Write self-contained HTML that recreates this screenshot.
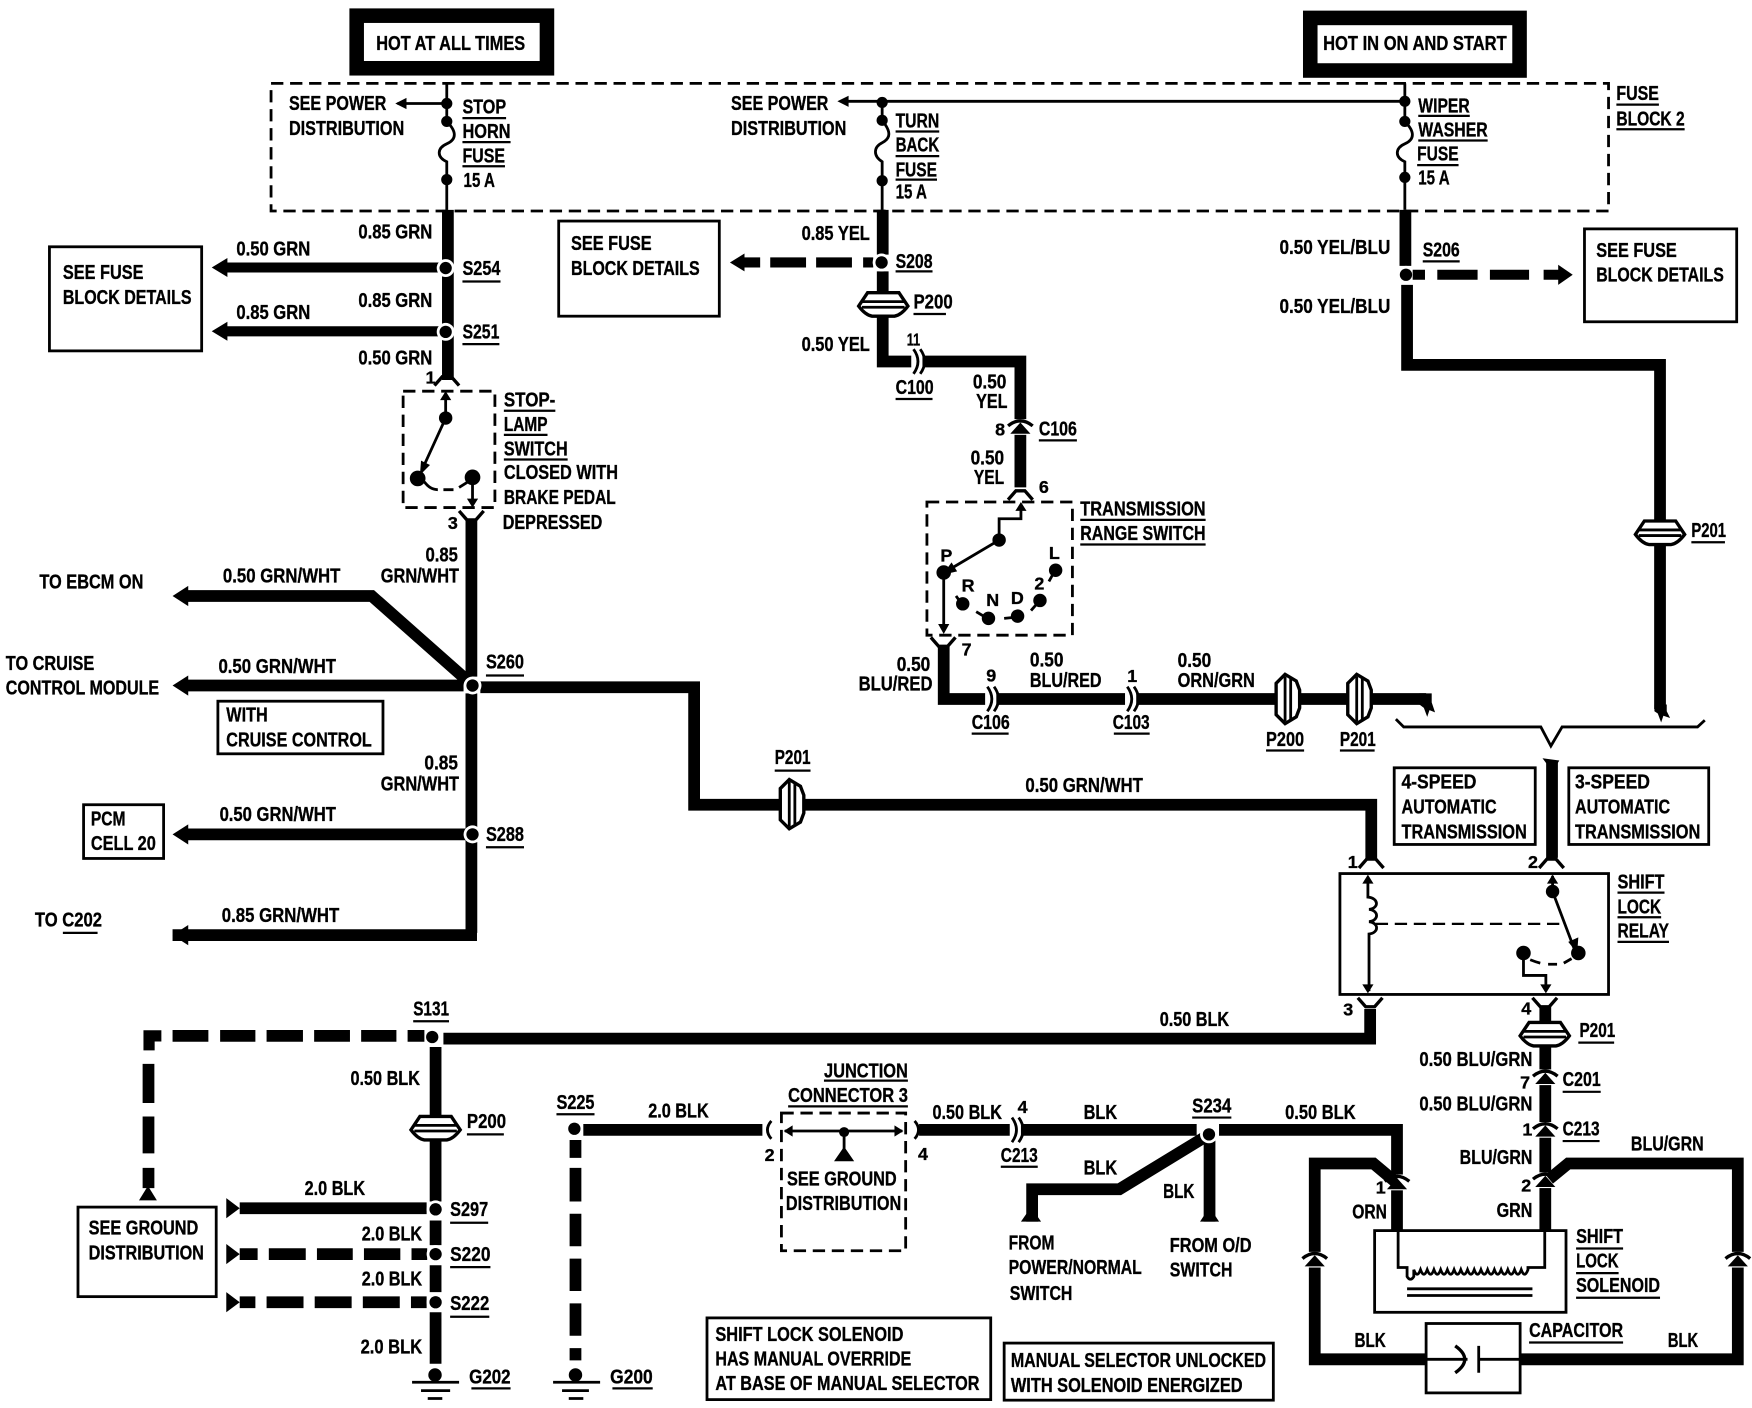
<!DOCTYPE html>
<html><head><meta charset="utf-8"><style>
html,body{margin:0;padding:0;background:#fff}
svg{display:block}
text{font-family:"Liberation Sans",sans-serif;font-weight:bold;font-size:18px;fill:#000;stroke:#000;stroke-width:.3}
text.n{font-size:16px}
.w{fill:none;stroke:#000;stroke-width:10.5;stroke-linejoin:miter}
.t{fill:none;stroke:#000;stroke-width:2.5}
.u{fill:none;stroke:#000;stroke-width:2}
.b{fill:none;stroke:#000;stroke-width:2.5}
.da{fill:none;stroke:#000;stroke-width:2.5;stroke-dasharray:11 6}
</style></head><body>
<svg xmlns="http://www.w3.org/2000/svg" width="1752" height="1408" viewBox="0 0 1565 1258">
<defs>
<g id="fu"><path d="M-11,6 L-4,-2 L4,-2 L11,6" fill="none" stroke="#000" stroke-width="3"/></g>
<g id="fd"><path d="M-11,-6 L-4,2 L4,2 L11,-6" fill="none" stroke="#000" stroke-width="3"/></g>
<g id="cv"><rect x="-13" y="-7" width="26" height="14" fill="#fff"/><path d="M-11,-1 Q0,-10 11,-1" fill="none" stroke="#000" stroke-width="3"/><path d="M-9,6 L0,-4 L9,6 Z" fill="#000"/></g>
<g id="ch"><rect x="-5" y="-12" width="10" height="24" fill="#fff"/><path d="M-3,-11 Q5,0 -3,11 M3,-11 Q11,0 3,11" fill="none" stroke="#000" stroke-width="2.5"/></g>
<g id="pv"><path d="M-22,2 L-14,-10 L14,-10 L22,2 Q16,10 10,11 L-10,11 Q-16,10 -22,2 Z" fill="#fff" stroke="#000" stroke-width="3"/><path d="M-19,-2 H19 M-19,3 H19" stroke="#000" stroke-width="2.5"/></g>
<g id="ph"><path d="M-2,-22 L-10,-14 L-10,14 L-2,22 L8,16 L11,8 L11,-8 L8,-16 Z" fill="#fff" stroke="#000" stroke-width="3"/><path d="M-2,-20 V20 M3,-20 V20" stroke="#000" stroke-width="2.5"/></g>
<g id="dot"><circle r="8" fill="#fff"/><circle r="5.5" fill="#000"/></g>
</defs>
<rect width="1565" height="1258" fill="#fff"/>
<g transform="translate(-1,-0.5)">

<!-- power boxes -->
<rect x="313" y="8" width="183" height="60" fill="#000"/><rect x="326" y="21" width="157" height="34" fill="#fff"/>
<rect x="1165" y="10" width="200" height="60" fill="#000"/><rect x="1178" y="23" width="174" height="34" fill="#fff"/>
<!-- fuse block -->
<rect x="243" y="75" width="1195" height="114" class="da"/>

<!-- thin fuse lines -->
<path class="t" d="M400,75 V109 C409,118 409,125 400,129 C391,133 391,141 400,145 V188 M400,93 H356 M1256,75 V109 C1265,118 1265,125 1256,129 C1247,133 1247,141 1256,145 V188 M1256,91 H752 M789,91 V108 C797,118 797,124 789,128 C781,132 781,140 789,145 V188"/>
<path d="M354,93 L364,88 L364,98 Z M749,91 L759,86 L759,96 Z"/>
<g fill="#000"><circle cx="400" cy="93" r="5"/><circle cx="400" cy="109" r="5"/><circle cx="400" cy="161" r="5"/><circle cx="789" cy="92" r="5"/><circle cx="789" cy="108" r="5"/><circle cx="789" cy="162" r="5"/><circle cx="1256" cy="91" r="5"/><circle cx="1256" cy="109" r="5"/><circle cx="1256" cy="159" r="5"/></g>

<!-- wires -->
<path class="w" d="M401,188 V340"/>
<path class="w" style="stroke-width:9" d="M203,239.5 H395 M203,296.5 H395"/>
<path d="M190,239.5 L204,231 L204,248 Z M190,296.5 L204,288 L204,305 Z"/>
<use href="#fu" x="400" y="339"/>
<rect x="361" y="350" width="82" height="104" class="da"/>
<path class="t" d="M399,352 V374 L378,420 M423,427 V452"/>
<path d="M399,350 L394,358 L404,358 Z M376,425 L377,412 L385,416 Z M423,454 L418,446 L428,446 Z"/>
<circle cx="399" cy="374" r="6"/><circle cx="374" cy="428" r="7"/><circle cx="423" cy="427" r="7"/>
<path class="t" d="M380,431 Q385,438 392,438 M397,438 H406 M411,436 L419,431"/>
<use href="#fd" x="422" y="463"/>
<path class="w" d="M422,466 V605 M422,620 V834 M155,836 H427"/>
<path class="w" d="M168,533 H333 L420,610 M168,613 H415 M168,746 H418 M430,614.5 H621 V719.5 H1226 V768"/>
<path d="M155,533 L169,524 L169,542 Z M155,613 L169,604 L169,622 Z M155,746 L169,737 L169,755 Z M155,836 L169,827 L169,845 Z"/>
<use href="#dot" x="399" y="240"/><use href="#dot" x="399" y="297"/><use href="#dot" x="423" y="613"/><use href="#dot" x="423" y="746"/>
<use href="#ph" x="708" y="719"/>

<!-- middle column -->
<path class="w" d="M789.5,188 V228 M789.5,243 V323.5 H912.5 V436"/>
<path class="w" style="stroke-width:9" d="M665,235 H680 M689,235 H721 M730,235 H762 M772,235 H781"/>
<path d="M653,235 L666,227 L666,243 Z"/>
<use href="#dot" x="788.5" y="235"/>
<use href="#pv" x="790" y="272"/>
<use href="#ch" x="820" y="323.5"/>
<use href="#cv" x="912.5" y="382"/>
<use href="#fu" x="912.5" y="441"/>
<rect x="829" y="449" width="130" height="119" class="da"/>
<path class="t" d="M913,452 V464 H893.5 V483 L848,510 M844,512 V564"/>
<path d="M913,449 L908,457 L918,457 Z M843,514 L851,503 L856,511 Z M844,567 L839,558 L849,558 Z"/>
<g fill="#000"><circle cx="893.5" cy="483" r="6"/><circle cx="844" cy="512" r="6.5"/><circle cx="861" cy="540" r="6"/><circle cx="884" cy="553" r="6"/><circle cx="910" cy="551" r="6"/><circle cx="930" cy="537" r="6"/><circle cx="944" cy="510" r="6"/></g>
<path class="t" d="M855,533 L860,540 M873,547 L883,553 M898,553 L908,552 M922,546 L929,538 M938,520 L943,511"/>
<use href="#fd" x="843.5" y="576"/>
<path class="w" d="M844,578 V625 H1275"/>
<use href="#ch" x="886" y="625"/><use href="#ch" x="1011" y="625"/>
<use href="#ph" x="1151" y="625"/><use href="#ph" x="1215" y="625"/>
<path d="M1269,620 H1280 V628 L1283,637 L1278,635 L1276,641 L1273,633 L1269,630 Z"/>

<!-- right column -->
<path class="w" d="M1256.5,188 V238 M1258,255 V326.5 H1484 V634"/>
<use href="#dot" x="1257" y="246"/>
<path class="w" style="stroke-width:9" d="M1263,246 H1274 M1285,246 H1321 M1332,246 H1367 M1380,246 H1395"/>
<path d="M1406,246 L1393,237 L1393,255 Z"/>
<use href="#pv" x="1484" y="476"/>
<path d="M1479,630 H1490 V636 L1493,642 L1487,640 L1485,646 L1482,638 L1479,636 Z"/>
<path class="t" d="M1248,643 L1255,650 H1377.5 L1386.5,667 L1396.5,650 H1517.5 L1524,644"/>

<!-- relay -->
<rect x="1198" y="781" width="240" height="108" class="b"/>
<use href="#fu" x="1226" y="770"/><use href="#fu" x="1387" y="770"/>
<path class="w" d="M1387.5,682 V767"/>
<path d="M1379,678 L1394,680 L1388,690 Z"/>
<path class="t" d="M1223,785 V802 C1233,803 1233,812 1224,813 C1233,814 1233,823 1224,824 C1233,825 1233,834 1224,835 V886 M1388,783 V797 L1408,850 M1362,852 V872 H1382 V886"/>
<path class="da" style="stroke-width:2" d="M1230,826 H1397"/>
<path d="M1223,782 L1218,790 L1228,790 Z M1223,888 L1218,880 L1228,880 Z M1388,782 L1383,790 L1393,790 Z M1410,852 L1402,842 L1411,838 Z M1382,888 L1377,880 L1387,880 Z"/>
<circle cx="1388" cy="797" r="6"/><circle cx="1411" cy="852" r="6.5"/><circle cx="1362" cy="852" r="6.5"/>
<path class="t" d="M1368,858 Q1373,860 1377,861 M1384,862 H1392 M1398,861 L1405,857"/>
<use href="#fd" x="1225" y="898"/><use href="#fd" x="1381" y="898"/>

<!-- bottom row -->
<path class="w" d="M397,928.5 H1225 V902"/>
<use href="#dot" x="387" y="927"/>
<path class="w" d="M155,926 H187 M197.5,926 H229 M239,926 H271.5 M281.5,926 H313.5 M323.5,926 H355 M365,926 H380"/>
<path d="M129,921 H145 V931 H139 V939 H129 Z"/>
<path class="w" d="M133.5,951 V986 M133.5,998 V1031 M133.5,1044 V1062"/>
<path d="M133,1060 L125,1073 L141,1073 Z"/>
<path class="w" d="M390,936 V1074 M390,1091 V1113 M390,1131 V1155 M390,1173 V1219"/>
<use href="#pv" x="390" y="1008"/>
<path class="w" d="M215,1080 H382"/>
<path d="M203,1071 L215,1080 L203,1089 Z M203,1112 L215,1121 L203,1130 Z M203,1155 L215,1164 L203,1173 Z"/>
<path class="w" d="M215,1121 H231 M241,1121 H274 M284,1121 H316 M326,1121 H358.5 M368.5,1121 H382.5 M215,1164 H229 M239,1164 H272 M282,1164 H315 M325,1164 H358 M368,1164 H382"/>
<use href="#dot" x="390" y="1081"/><use href="#dot" x="390" y="1121"/><use href="#dot" x="390" y="1164"/>
<circle cx="389.5" cy="1229" r="6"/>
<path d="M369,1235.5 H411 M377,1243 H403 M383,1250 H396" stroke="#000" stroke-width="2.5"/>
<path d="M389.5,1229 V1236" stroke="#000" stroke-width="3"/>

<path class="w" d="M522,1010 H682"/>
<circle cx="514" cy="1009" r="5.5"/>
<path class="w" d="M515,1019 V1035 M515,1044 V1074 M515,1085 V1114 M515,1125 V1154 M515,1165 V1194 M515,1205 V1216"/>
<circle cx="515" cy="1229" r="6"/>
<path d="M495,1235.5 H537 M503,1243 H527 M509,1250 H522" stroke="#000" stroke-width="2.5"/>
<path d="M515,1229 V1236" stroke="#000" stroke-width="3"/>
<path class="t" d="M690,1002 Q683,1010 690,1018 M818,1002 Q825,1010 818,1018"/>
<rect x="699" y="995" width="111" height="123" class="da"/>
<path class="t" d="M702,1011 H807 M755,1011 V1028"/>
<path d="M701,1011 L709,1006 L709,1016 Z M808,1011 L800,1006 L800,1016 Z M755,1025 L746,1038 L764,1038 Z"/>
<circle cx="755" cy="1012" r="4.5"/>

<path class="w" d="M822,1010 H1070 M1090,1010 H1249 V1050"/>
<use href="#ch" x="908" y="1010"/>
<path class="w" d="M1078,1016 L1001,1063 H923 V1092"/>
<path class="w" d="M1081.5,1015 V1092"/>
<path d="M922,1079 L913,1092 L931,1092 Z M1081.5,1079 L1073,1092 L1090,1092 Z"/>
<use href="#dot" x="1081" y="1014"/>

<!-- solenoid / capacitor -->
<path class="w" d="M1381.5,900 V1099"/>
<use href="#pv" x="1381" y="924"/>
<use href="#cv" x="1381.5" y="963"/><use href="#cv" x="1381.5" y="1010"/><use href="#cv" x="1381.5" y="1055"/>
<path class="w" d="M1249,1058 V1100"/>
<use href="#cv" x="1249" y="1057"/>
<path class="w" d="M1385,1054 L1402,1040 H1553.5 V1215 H1359 M1275,1215 H1175.5 V1040 H1228 L1247,1056"/>
<use href="#cv" x="1175.5" y="1126"/><use href="#cv" x="1553.5" y="1126"/>
<rect x="1229" y="1100" width="171" height="73" class="b"/>
<path class="t" d="M1250,1100 V1133 H1258 V1141 q3,5 6,0 v-6 q3,8 6,0 q3,8 6,0 q3,8 6,0 q3,8 6,0 q3,8 6,0 q3,8 6,0 q3,8 6,0 q3,8 6,0 q3,8 6,0 q3,8 6,0 q3,8 6,0 q3,8 6,0 q3,8 6,0 q3,8 6,0 q3,8 6,0 q3,8 6,0 q3,8 6,0 V1133 H1381 V1100"/>
<path d="M1258,1152 H1370 M1258,1158 H1370" stroke="#000" stroke-width="2.5"/>
<rect x="1275" y="1183" width="84" height="62" class="b" fill="#fff"/>
<path class="t" d="M1275,1215 H1312 M1322,1215 H1359 M1322,1203 V1227"/>
<path class="t" style="stroke-width:3" d="M1301,1203 Q1318,1215 1301,1227"/>

<!-- boxes -->
<rect x="45" y="221" width="136" height="93" class="b"/><rect x="500" y="198" width="143.5" height="85" class="b"/><rect x="1416.5" y="205" width="136" height="83" class="b"/><rect x="195.5" y="627" width="147.5" height="47" class="b"/><rect x="75.5" y="719.5" width="71.5" height="48" class="b"/><rect x="70.5" y="1079" width="123.5" height="80" class="b"/><rect x="632.5" y="1178" width="253.5" height="73" class="b"/><rect x="898" y="1200.5" width="240.5" height="51" class="b"/><rect x="1246.5" y="686.5" width="126" height="68.5" class="b"/><rect x="1402.5" y="686.5" width="125" height="68.5" class="b"/>

<!-- underlines -->
<path class="u" d="M414,106H453M414,127.5H457M414,149H452M801,118H840M801,140H840M801,161H838M1268,104H1314M1268,126H1330M1267,148H1304M1445,94H1483M1445,116H1506M414,252H448M414,308H447M451,367.5H497M451,389H490M451,411H508M435,604H469M435,757.5H469M57,834H88M370,913H402M418,1014H451M498,996H532M737,966H812M705,989H812M403,1093H437M403,1132.6H439M403,1177H438M422,1241H457M548,1241H584M869,656H902M996,656H1028M1132,671H1166M1198,671H1229M693,689H725M1446,798H1488M1446,820H1485M1446,842H1492M1411,932H1443M1397,976H1431M1397,1020H1430M1066,999H1101M895,1043H928M1409,1116H1451M1409,1138H1447M1409,1160H1484M1367,1200H1451M801,243H834M817,281H846M801,357H834M929,394H963M966,465H1078M966,487H1078M1272,234H1305M1512,485H1542"/>

<!-- text -->
<g>
<text x="337" y="45" textLength="133" lengthAdjust="spacingAndGlyphs">HOT AT ALL TIMES</text>
<text x="1183" y="45" textLength="164" lengthAdjust="spacingAndGlyphs">HOT IN ON AND START</text>
<text x="259" y="99" textLength="87" lengthAdjust="spacingAndGlyphs">SEE POWER</text>
<text x="259" y="121" textLength="103" lengthAdjust="spacingAndGlyphs">DISTRIBUTION</text>
<text x="414" y="102" textLength="39" lengthAdjust="spacingAndGlyphs">STOP</text>
<text x="414" y="124" textLength="43" lengthAdjust="spacingAndGlyphs">HORN</text>
<text x="414" y="145.5" textLength="38" lengthAdjust="spacingAndGlyphs">FUSE</text>
<text x="415" y="167.5" textLength="28" lengthAdjust="spacingAndGlyphs">15 A</text>
<text x="654" y="99" textLength="87" lengthAdjust="spacingAndGlyphs">SEE POWER</text>
<text x="654" y="121" textLength="103" lengthAdjust="spacingAndGlyphs">DISTRIBUTION</text>
<text x="801" y="114.5" textLength="39" lengthAdjust="spacingAndGlyphs">TURN</text>
<text x="801" y="136" textLength="39" lengthAdjust="spacingAndGlyphs">BACK</text>
<text x="801" y="158" textLength="37" lengthAdjust="spacingAndGlyphs">FUSE</text>
<text x="801" y="178" textLength="28" lengthAdjust="spacingAndGlyphs">15 A</text>
<text x="1268" y="101" textLength="46" lengthAdjust="spacingAndGlyphs">WIPER</text>
<text x="1268" y="122.5" textLength="62" lengthAdjust="spacingAndGlyphs">WASHER</text>
<text x="1267" y="144" textLength="37" lengthAdjust="spacingAndGlyphs">FUSE</text>
<text x="1268" y="165.5" textLength="28" lengthAdjust="spacingAndGlyphs">15 A</text>
<text x="1445" y="90" textLength="38" lengthAdjust="spacingAndGlyphs">FUSE</text>
<text x="1445" y="112.5" textLength="61" lengthAdjust="spacingAndGlyphs">BLOCK 2</text>
<text x="321" y="213.5" textLength="66" lengthAdjust="spacingAndGlyphs">0.85 GRN</text>
<text x="212" y="229" textLength="66" lengthAdjust="spacingAndGlyphs">0.50 GRN</text>
<text x="57" y="250" textLength="72" lengthAdjust="spacingAndGlyphs">SEE FUSE</text>
<text x="57" y="272" textLength="115" lengthAdjust="spacingAndGlyphs">BLOCK DETAILS</text>
<text x="414" y="246" textLength="34" lengthAdjust="spacingAndGlyphs">S254</text>
<text x="321" y="275" textLength="66" lengthAdjust="spacingAndGlyphs">0.85 GRN</text>
<text x="212" y="285.5" textLength="66" lengthAdjust="spacingAndGlyphs">0.85 GRN</text>
<text x="414" y="303" textLength="33" lengthAdjust="spacingAndGlyphs">S251</text>
<text x="321" y="326" textLength="66" lengthAdjust="spacingAndGlyphs">0.50 GRN</text>
<text class="n" x="381" y="343">1</text>
<text x="451" y="363.5" textLength="46" lengthAdjust="spacingAndGlyphs">STOP-</text>
<text x="451" y="385.5" textLength="39" lengthAdjust="spacingAndGlyphs">LAMP</text>
<text x="451" y="407.5" textLength="57" lengthAdjust="spacingAndGlyphs">SWITCH</text>
<text x="451" y="428.5" textLength="102" lengthAdjust="spacingAndGlyphs">CLOSED WITH</text>
<text x="451" y="451" textLength="100" lengthAdjust="spacingAndGlyphs">BRAKE PEDAL</text>
<text x="450" y="473" textLength="89" lengthAdjust="spacingAndGlyphs">DEPRESSED</text>
<text class="n" x="401" y="473">3</text>
<text x="381" y="502" textLength="29" lengthAdjust="spacingAndGlyphs">0.85</text>
<text x="341" y="521" textLength="70" lengthAdjust="spacingAndGlyphs">GRN/WHT</text>
<text x="36" y="526.5" textLength="93" lengthAdjust="spacingAndGlyphs">TO EBCM ON</text>
<text x="200" y="521" textLength="105" lengthAdjust="spacingAndGlyphs">0.50 GRN/WHT</text>
<text x="6" y="599" textLength="79" lengthAdjust="spacingAndGlyphs">TO CRUISE</text>
<text x="6" y="621" textLength="137" lengthAdjust="spacingAndGlyphs">CONTROL MODULE</text>
<text x="196" y="602" textLength="105" lengthAdjust="spacingAndGlyphs">0.50 GRN/WHT</text>
<text x="435" y="598" textLength="34" lengthAdjust="spacingAndGlyphs">S260</text>
<text x="203" y="645" textLength="37" lengthAdjust="spacingAndGlyphs">WITH</text>
<text x="203" y="667.5" textLength="130" lengthAdjust="spacingAndGlyphs">CRUISE CONTROL</text>
<text x="380" y="688" textLength="30" lengthAdjust="spacingAndGlyphs">0.85</text>
<text x="341" y="707" textLength="70" lengthAdjust="spacingAndGlyphs">GRN/WHT</text>
<text x="82" y="738" textLength="31" lengthAdjust="spacingAndGlyphs">PCM</text>
<text x="82" y="760" textLength="58" lengthAdjust="spacingAndGlyphs">CELL 20</text>
<text x="197" y="734" textLength="104" lengthAdjust="spacingAndGlyphs">0.50 GRN/WHT</text>
<text x="435" y="752" textLength="34" lengthAdjust="spacingAndGlyphs">S288</text>
<text x="32" y="828.5" textLength="60" lengthAdjust="spacingAndGlyphs">TO C202</text>
<text x="199" y="824.5" textLength="105" lengthAdjust="spacingAndGlyphs">0.85 GRN/WHT</text>
<text x="370" y="908" textLength="32" lengthAdjust="spacingAndGlyphs">S131</text>
<text x="314" y="970" textLength="62" lengthAdjust="spacingAndGlyphs">0.50 BLK</text>
<text x="418" y="1008.5" textLength="35" lengthAdjust="spacingAndGlyphs">P200</text>
<text x="498" y="991.5" textLength="34" lengthAdjust="spacingAndGlyphs">S225</text>
<text x="580" y="999" textLength="54" lengthAdjust="spacingAndGlyphs">2.0 BLK</text>
<text class="n" x="684" y="1038">2</text>
<text x="737" y="963" textLength="75" lengthAdjust="spacingAndGlyphs">JUNCTION</text>
<text x="705" y="985" textLength="107" lengthAdjust="spacingAndGlyphs">CONNECTOR 3</text>
<text x="704" y="1059.5" textLength="98" lengthAdjust="spacingAndGlyphs">SEE GROUND</text>
<text x="703" y="1081.5" textLength="103" lengthAdjust="spacingAndGlyphs">DISTRIBUTION</text>
<text x="273" y="1068" textLength="54" lengthAdjust="spacingAndGlyphs">2.0 BLK</text>
<text x="403" y="1087" textLength="34" lengthAdjust="spacingAndGlyphs">S297</text>
<text x="80" y="1103.5" textLength="98" lengthAdjust="spacingAndGlyphs">SEE GROUND</text>
<text x="80" y="1126" textLength="103" lengthAdjust="spacingAndGlyphs">DISTRIBUTION</text>
<text x="324" y="1109" textLength="54" lengthAdjust="spacingAndGlyphs">2.0 BLK</text>
<text x="403" y="1127" textLength="36" lengthAdjust="spacingAndGlyphs">S220</text>
<text x="324" y="1149" textLength="54" lengthAdjust="spacingAndGlyphs">2.0 BLK</text>
<text x="403" y="1171" textLength="35" lengthAdjust="spacingAndGlyphs">S222</text>
<text x="323" y="1210" textLength="55" lengthAdjust="spacingAndGlyphs">2.0 BLK</text>
<text x="420" y="1236.5" textLength="37" lengthAdjust="spacingAndGlyphs">G202</text>
<text x="546" y="1236.5" textLength="38" lengthAdjust="spacingAndGlyphs">G200</text>
<text x="640" y="1198.5" textLength="168" lengthAdjust="spacingAndGlyphs">SHIFT LOCK SOLENOID</text>
<text x="640" y="1220.5" textLength="175" lengthAdjust="spacingAndGlyphs">HAS MANUAL OVERRIDE</text>
<text x="640" y="1242.5" textLength="236" lengthAdjust="spacingAndGlyphs">AT BASE OF MANUAL SELECTOR</text>
<text x="904" y="1222" textLength="228" lengthAdjust="spacingAndGlyphs">MANUAL SELECTOR UNLOCKED</text>
<text x="904" y="1244" textLength="207" lengthAdjust="spacingAndGlyphs">WITH SOLENOID ENERGIZED</text>
<text x="902" y="1117" textLength="41" lengthAdjust="spacingAndGlyphs">FROM</text>
<text x="902" y="1139" textLength="119" lengthAdjust="spacingAndGlyphs">POWER/NORMAL</text>
<text x="903" y="1162" textLength="56" lengthAdjust="spacingAndGlyphs">SWITCH</text>
<text x="1046" y="1119" textLength="73" lengthAdjust="spacingAndGlyphs">FROM O/D</text>
<text x="1046" y="1141" textLength="56" lengthAdjust="spacingAndGlyphs">SWITCH</text>
<text x="869" y="652" textLength="34" lengthAdjust="spacingAndGlyphs">C106</text>
<text x="995" y="652" textLength="33" lengthAdjust="spacingAndGlyphs">C103</text>
<text x="1132" y="667" textLength="34" lengthAdjust="spacingAndGlyphs">P200</text>
<text x="1198" y="667" textLength="32" lengthAdjust="spacingAndGlyphs">P201</text>
<text x="917" y="708" textLength="105" lengthAdjust="spacingAndGlyphs">0.50 GRN/WHT</text>
<text x="1253" y="705" textLength="67" lengthAdjust="spacingAndGlyphs">4-SPEED</text>
<text x="1253" y="727.5" textLength="85" lengthAdjust="spacingAndGlyphs">AUTOMATIC</text>
<text x="1253" y="749.5" textLength="112" lengthAdjust="spacingAndGlyphs">TRANSMISSION</text>
<text x="1408" y="705" textLength="67" lengthAdjust="spacingAndGlyphs">3-SPEED</text>
<text x="1408" y="727.5" textLength="85" lengthAdjust="spacingAndGlyphs">AUTOMATIC</text>
<text x="1408" y="749.5" textLength="112" lengthAdjust="spacingAndGlyphs">TRANSMISSION</text>
<text x="693" y="683" textLength="32" lengthAdjust="spacingAndGlyphs">P201</text>
<text class="n" x="1205" y="776">1</text>
<text class="n" x="1366" y="776">2</text>
<text x="1446" y="794.5" textLength="42" lengthAdjust="spacingAndGlyphs">SHIFT</text>
<text x="1446" y="816.5" textLength="39" lengthAdjust="spacingAndGlyphs">LOCK</text>
<text x="1446" y="838" textLength="46" lengthAdjust="spacingAndGlyphs">RELAY</text>
<text class="n" x="1201" y="908">3</text>
<text class="n" x="1360" y="907">4</text>
<text x="1037" y="917" textLength="62" lengthAdjust="spacingAndGlyphs">0.50 BLK</text>
<text x="1412" y="927" textLength="32" lengthAdjust="spacingAndGlyphs">P201</text>
<text x="1269" y="953" textLength="101" lengthAdjust="spacingAndGlyphs">0.50 BLU/GRN</text>
<text x="1397" y="971" textLength="34" lengthAdjust="spacingAndGlyphs">C201</text>
<text class="n" x="1359" y="973">7</text>
<text x="1269" y="992.5" textLength="101" lengthAdjust="spacingAndGlyphs">0.50 BLU/GRN</text>
<text class="n" x="1361" y="1015">1</text>
<text x="1397" y="1015" textLength="33" lengthAdjust="spacingAndGlyphs">C213</text>
<text x="1305" y="1040.5" textLength="65" lengthAdjust="spacingAndGlyphs">BLU/GRN</text>
<text x="1458" y="1028.5" textLength="65" lengthAdjust="spacingAndGlyphs">BLU/GRN</text>
<text class="n" x="1360" y="1065">2</text>
<text class="n" x="1230" y="1067">1</text>
<text x="1209" y="1089" textLength="31" lengthAdjust="spacingAndGlyphs">ORN</text>
<text x="1338" y="1088" textLength="32" lengthAdjust="spacingAndGlyphs">GRN</text>
<text x="1409" y="1111" textLength="42" lengthAdjust="spacingAndGlyphs">SHIFT</text>
<text x="1409" y="1133" textLength="38" lengthAdjust="spacingAndGlyphs">LOCK</text>
<text x="1409" y="1155" textLength="75" lengthAdjust="spacingAndGlyphs">SOLENOID</text>
<text x="1367" y="1195" textLength="84" lengthAdjust="spacingAndGlyphs">CAPACITOR</text>
<text x="1211" y="1204" textLength="28" lengthAdjust="spacingAndGlyphs">BLK</text>
<text x="1491" y="1204" textLength="27" lengthAdjust="spacingAndGlyphs">BLK</text>
<text x="834" y="1000.5" textLength="62" lengthAdjust="spacingAndGlyphs">0.50 BLK</text>
<text class="n" x="910" y="995">4</text>
<text x="969" y="1000.5" textLength="30" lengthAdjust="spacingAndGlyphs">BLK</text>
<text x="1066" y="994.5" textLength="35" lengthAdjust="spacingAndGlyphs">S234</text>
<text x="1149" y="1000.5" textLength="63" lengthAdjust="spacingAndGlyphs">0.50 BLK</text>
<text class="n" x="821" y="1037">4</text>
<text x="895" y="1038.5" textLength="33" lengthAdjust="spacingAndGlyphs">C213</text>
<text x="969" y="1050" textLength="30" lengthAdjust="spacingAndGlyphs">BLK</text>
<text x="1040" y="1071" textLength="28" lengthAdjust="spacingAndGlyphs">BLK</text>
<text x="511" y="224" textLength="72" lengthAdjust="spacingAndGlyphs">SEE FUSE</text>
<text x="511" y="246" textLength="115" lengthAdjust="spacingAndGlyphs">BLOCK DETAILS</text>
<text x="717" y="215" textLength="61" lengthAdjust="spacingAndGlyphs">0.85 YEL</text>
<text x="801" y="240" textLength="33" lengthAdjust="spacingAndGlyphs">S208</text>
<text x="817" y="276" textLength="35" lengthAdjust="spacingAndGlyphs">P200</text>
<text x="717" y="314" textLength="61" lengthAdjust="spacingAndGlyphs">0.50 YEL</text>
<text class="n" x="811" y="309" textLength="12" lengthAdjust="spacingAndGlyphs">11</text>
<text x="801" y="352.5" textLength="34" lengthAdjust="spacingAndGlyphs">C100</text>
<text x="870" y="347.5" textLength="30" lengthAdjust="spacingAndGlyphs">0.50</text>
<text x="873" y="365" textLength="28" lengthAdjust="spacingAndGlyphs">YEL</text>
<text class="n" x="890" y="389.5">8</text>
<text x="929" y="389.5" textLength="34" lengthAdjust="spacingAndGlyphs">C106</text>
<text x="868" y="415.5" textLength="30" lengthAdjust="spacingAndGlyphs">0.50</text>
<text x="871" y="433" textLength="27" lengthAdjust="spacingAndGlyphs">YEL</text>
<text class="n" x="929" y="441">6</text>
<text x="966" y="461" textLength="112" lengthAdjust="spacingAndGlyphs">TRANSMISSION</text>
<text x="966" y="483" textLength="112" lengthAdjust="spacingAndGlyphs">RANGE SWITCH</text>
<text class="n" x="841" y="502">P</text>
<text class="n" x="860" y="529">R</text>
<text class="n" x="882" y="542">N</text>
<text class="n" x="904" y="540">D</text>
<text class="n" x="925" y="527">2</text>
<text class="n" x="938" y="500">L</text>
<text class="n" x="860" y="586">7</text>
<text x="802" y="600" textLength="30" lengthAdjust="spacingAndGlyphs">0.50</text>
<text x="768" y="617.5" textLength="66" lengthAdjust="spacingAndGlyphs">BLU/RED</text>
<text class="n" x="882" y="609.5">9</text>
<text x="921" y="596" textLength="30" lengthAdjust="spacingAndGlyphs">0.50</text>
<text x="921" y="614.5" textLength="64" lengthAdjust="spacingAndGlyphs">BLU/RED</text>
<text class="n" x="1008" y="610">1</text>
<text x="1053" y="596.5" textLength="30" lengthAdjust="spacingAndGlyphs">0.50</text>
<text x="1053" y="614.5" textLength="69" lengthAdjust="spacingAndGlyphs">ORN/GRN</text>
<text x="1144" y="227.5" textLength="99" lengthAdjust="spacingAndGlyphs">0.50 YEL/BLU</text>
<text x="1144" y="280" textLength="99" lengthAdjust="spacingAndGlyphs">0.50 YEL/BLU</text>
<text x="1272" y="229.5" textLength="33" lengthAdjust="spacingAndGlyphs">S206</text>
<text x="1427" y="230" textLength="72" lengthAdjust="spacingAndGlyphs">SEE FUSE</text>
<text x="1427" y="252" textLength="114" lengthAdjust="spacingAndGlyphs">BLOCK DETAILS</text>
<text x="1512" y="480.5" textLength="31" lengthAdjust="spacingAndGlyphs">P201</text>
</g>
</g>
</svg>
</body></html>
